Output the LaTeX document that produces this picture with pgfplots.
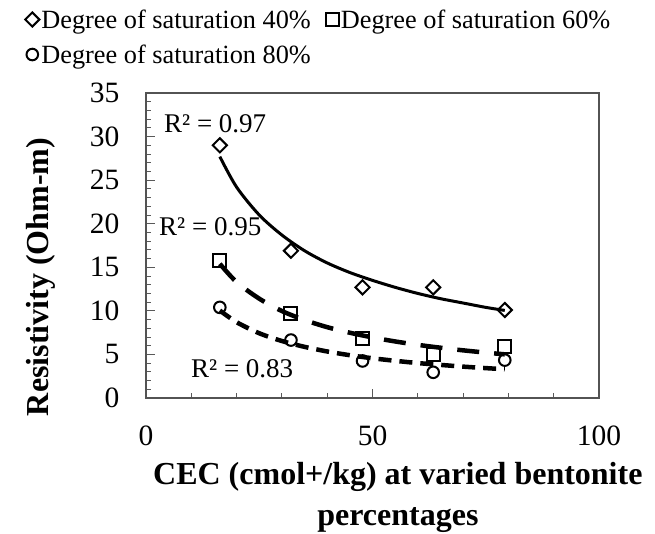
\documentclass[border=0pt]{standalone}
\usepackage{fontspec}
\setmainfont{Liberation Serif}
\usepackage{pgfplots}
\pgfplotsset{compat=1.18}
\begin{document}
\begin{tikzpicture}
\begin{axis}[
  at={(146pt,135pt)}, anchor=south west,
  width=453pt, height=305pt, scale only axis,
  xmin=0, xmax=100, ymin=0, ymax=35,
  xtick={0,50,100}, minor xtick={10,20,30,40,60,70,80,90},
  ytick={0,5,...,35}, minor ytick={1,2,3,4,6,7,8,9,11,12,13,14,16,17,18,19,21,22,23,24,26,27,28,29,31,32,33,34},
  tick align=inside, xtick pos=lower, ytick pos=left,
  major tick length=9pt, minor tick length=5pt,
  every tick/.style={draw=gray!70!black, line width=1pt},
  axis line style={draw=gray!65!black, line width=2.5pt},
  tick label style={font=\fontsize{29.5}{34}\selectfont},
  /pgf/number format/assume math mode=true,
  yticklabel style={xshift=-23pt},
  xticklabel style={yshift=-24pt},
  xlabel={CEC (cmol+/kg) at varied bentonite\\percentages},
  xlabel style={at={(axis description cs:0.556,-0.325)}, anchor=center, align=center, font=\bfseries\fontsize{32}{41}\selectfont},
  ylabel={Resistivity (Ohm-m)},
  ylabel style={at={(axis description cs:-0.232,0.397)}, anchor=center, font=\bfseries\fontsize{32}{38}\selectfont},
  legend style={at={(axis description cs:-0.267,1.281)}, anchor=north west, draw=none, fill=none,
    font=\fontsize{26.3}{31}\selectfont, inner sep=0pt,
    /tikz/every even column/.append style={column sep=13pt}, row sep=11pt},
  legend columns=2, legend cell align=left,
  legend image code/.code={\draw[#1] plot coordinates {(7pt,0pt)};},
  clip=false,
]
\addplot[only marks, mark=square, mark size=5pt, mark options={rotate=45, fill=white, draw=black, line width=2pt}]
  coordinates {(16.3,29.0) (32.0,16.9) (47.8,12.7) (63.4,12.7) (79.2,10.1)};
\addlegendentry{Degree of saturation 40\%}
\addplot[only marks, mark=square, mark size=6.5pt, mark options={fill=white, draw=black, line width=2pt}]
  coordinates {(16.3,15.8) (32.0,9.7) (47.8,6.85) (63.4,5.0) (79.2,5.9)};
\addlegendentry{Degree of saturation 60\%}
\addplot[only marks, mark=o, mark size=5.8pt, mark options={fill=white, draw=black, line width=2pt}]
  coordinates {(16.3,10.4) (32.0,6.65) (47.8,4.25) (63.4,2.95) (79.2,4.35)};
\addlegendentry{Degree of saturation 80\%}
% trend lines (power fits as drawn)
\addplot[forget plot, black, line width=3pt, smooth, no markers]
  coordinates {(16.3,27.7) (20,24.2) (25,21.0) (30,18.7) (35,16.9) (40,15.5) (45,14.4) (50,13.5) (55,12.7) (60,12.0) (65,11.4) (70,10.9) (75,10.4) (79.2,10.05)};
\addplot[forget plot, black, line width=4.5pt, smooth, no markers, dash pattern=on 22pt off 15pt]
  coordinates {(16.3,15.4) (20,13.3) (25,11.4) (30,9.98) (35,8.95) (40,8.13) (45,7.49) (50,6.95) (55,6.49) (60,6.10) (65,5.77) (70,5.47) (75,5.21) (79.2,5.01)};
\addplot[forget plot, black, line width=4.5pt, smooth, no markers, dash pattern=on 13pt off 8pt]
  coordinates {(16.3,10.04) (20,8.70) (25,7.43) (30,6.54) (35,5.87) (40,5.34) (45,4.91) (50,4.56) (55,4.27) (60,4.01) (65,3.80) (70,3.60) (75,3.43) (79.2,3.30)};
\node[anchor=base west, inner sep=0pt, font=\fontsize{27}{32}\selectfont] at (axis cs:3.97,30.5) {R² = 0.97};
\node[anchor=base west, inner sep=0pt, font=\fontsize{27}{32}\selectfont] at (axis cs:2.87,18.7) {R² = 0.95};
\node[anchor=base west, inner sep=0pt, font=\fontsize{27}{32}\selectfont] at (axis cs:9.93,2.41) {R² = 0.83};
\end{axis}
\pgfresetboundingbox
\useasboundingbox (0pt,0pt) rectangle (655pt,533pt);
\end{tikzpicture}
\end{document}
